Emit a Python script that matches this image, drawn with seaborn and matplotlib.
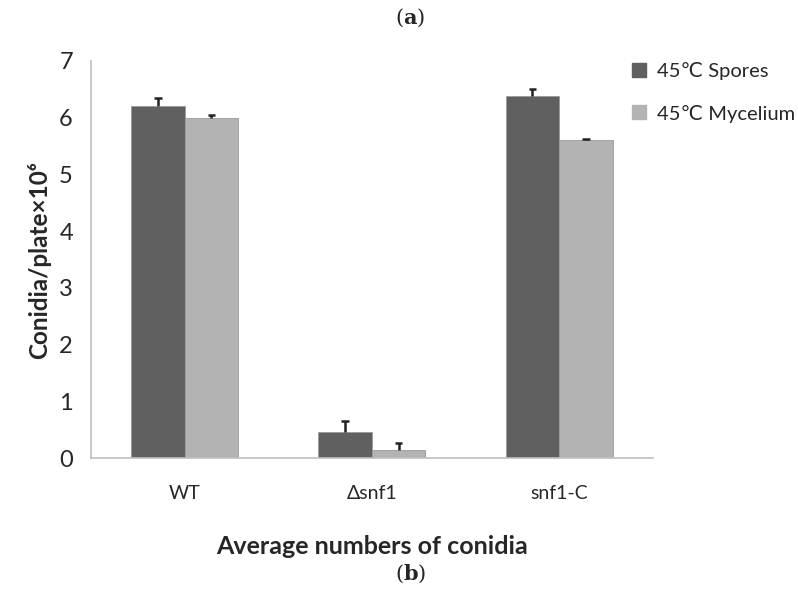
import matplotlib
matplotlib.use("Agg")
import matplotlib.pyplot as plt
from matplotlib.lines import Line2D
import seaborn as sns
import pandas as pd

categories = ["WT", "\u0394snf1", "snf1-C"]
series = ["45\u2103 Spores", "45\u2103 Mycelium"]
spores = [6.20, 0.46, 6.39]
mycelium = [6.00, 0.15, 5.60]
spores_err = [0.15, 0.19, 0.12]
mycelium_err = [0.05, 0.12, 0.02]
colors = ["#606060", "#b3b3b3"]

df = pd.DataFrame({
    "cat": categories * 2,
    "series": [series[0]] * 3 + [series[1]] * 3,
    "value": spores + mycelium,
    "err": spores_err + mycelium_err,
})

sns.set_style("white")
FONT = ["Lato", "DejaVu Sans"]
plt.rcParams["font.family"] = FONT
plt.rcParams["mathtext.fontset"] = "dejavuserif"

fig = plt.figure(figsize=(7.98, 5.98), dpi=100)
ax = fig.add_axes([0.114, 0.2336, 0.704, 0.6646])

sns.barplot(data=df, x="cat", y="value", hue="series", order=categories,
            hue_order=series, palette=colors, width=0.57, errorbar=None,
            edgecolor="#9a9a9a", linewidth=0.6, ax=ax, legend=False)

# upper-only error bars from bar patches
bars = [p for p in ax.patches if p.get_height() > 0]
errs = df["err"].tolist()
vals = df["value"].tolist()
for p in bars:
    h = p.get_height()
    xc = p.get_x() + p.get_width() / 2
    idx = min(range(len(vals)), key=lambda i: abs(vals[i] - h))
    top = h + errs[idx]
    ax.vlines(xc, h, top, color="#222222", linewidth=1.8, zorder=5)
    ax.hlines(top, xc - 0.02, xc + 0.02, color="#222222", linewidth=1.8, zorder=5)

ax.set_xlim(-0.5, 2.5)
ax.set_ylim(0, 7)
ax.set_yticks(range(0, 8))
ax.set_yticklabels([str(i) for i in range(0, 8)], fontsize=17)
ax.set_xticks(range(3))
ax.set_xticklabels(categories, fontsize=14)
ax.set_xticks([-0.5, 0.5, 1.5, 2.5], minor=True)
ax.tick_params(axis="x", which="major", length=0, pad=19)
ax.tick_params(axis="x", which="minor", length=7, color="#bfbfbf", width=1.2)
ax.tick_params(axis="y", length=7, color="#bfbfbf", width=1.2, pad=6)

for s in ["top", "right"]:
    ax.spines[s].set_visible(False)
for s in ["left", "bottom"]:
    ax.spines[s].set_color("#bfbfbf")
    ax.spines[s].set_linewidth(1.2)

ax.set_xlabel("Average numbers of conidia", fontsize=18, fontweight="bold", labelpad=24)
ax.set_ylabel("Conidia/plate\u00d710\u2076", fontsize=17.5, fontweight="bold", labelpad=6)

handles = [Line2D([0], [0], marker="s", linestyle="none", markersize=10,
                  markerfacecolor=c, markeredgecolor=c) for c in colors]
fig.legend(handles, series, loc="upper left", bbox_to_anchor=(0.768, 0.926),
           frameon=False, handlelength=0.8, handletextpad=0.5,
           labelspacing=1.2, prop={"family": FONT, "size": 14.5})

fig.text(0.514, 0.97, r"($\mathbf{a}$)", ha="center", va="center", fontsize=15,
         family="DejaVu Serif")
fig.text(0.514, 0.04, r"($\mathbf{b}$)", ha="center", va="center", fontsize=15,
         family="DejaVu Serif")

fig.savefig("out.png", dpi=100)
